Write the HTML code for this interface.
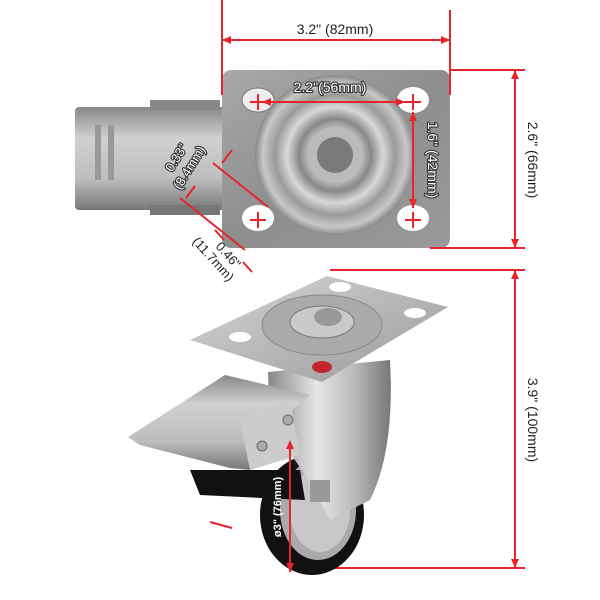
<!DOCTYPE html>
<html><head><meta charset="utf-8"><style>
html,body{margin:0;padding:0;background:#fff;width:600px;height:600px;overflow:hidden}
svg text{font-family:"Liberation Sans",sans-serif}
.w{fill:#fff;stroke:#333;stroke-width:2.2px;paint-order:stroke;stroke-linejoin:round}
</style></head><body>
<svg width="600" height="600" viewBox="0 0 600 600" xmlns="http://www.w3.org/2000/svg">
<defs>
<linearGradient id="plate" x1="0" y1="0" x2="1" y2="1"><stop offset="0" stop-color="#a9a9a9"/><stop offset="0.5" stop-color="#8e8e8e"/><stop offset="1" stop-color="#9a9a9a"/></linearGradient>
<radialGradient id="disc" cx="0.5" cy="0.5" r="0.5"><stop offset="0" stop-color="#777"/><stop offset="0.3" stop-color="#ccc"/><stop offset="0.45" stop-color="#888"/><stop offset="0.6" stop-color="#d8d8d8"/><stop offset="0.75" stop-color="#9a9a9a"/><stop offset="0.9" stop-color="#c8c8c8"/><stop offset="1" stop-color="#8a8a8a"/></radialGradient>
<linearGradient id="lever" x1="0" y1="0" x2="0" y2="1"><stop offset="0" stop-color="#888"/><stop offset="0.3" stop-color="#d0d0d0"/><stop offset="0.7" stop-color="#bdbdbd"/><stop offset="1" stop-color="#777"/></linearGradient>
<linearGradient id="fork" x1="0" y1="0" x2="1" y2="0"><stop offset="0" stop-color="#888"/><stop offset="0.4" stop-color="#e6e6e6"/><stop offset="0.7" stop-color="#bbb"/><stop offset="1" stop-color="#777"/></linearGradient>
<linearGradient id="plate2" x1="0" y1="0" x2="1" y2="1"><stop offset="0" stop-color="#d6d6d6"/><stop offset="1" stop-color="#999"/></linearGradient>
</defs>

<!-- top view lever -->
<rect x="75" y="107" width="150" height="103" rx="4" fill="url(#lever)"/>
<rect x="95" y="125" width="6" height="55" fill="#999"/><rect x="108" y="125" width="6" height="55" fill="#999"/>
<rect x="150" y="100" width="70" height="10" fill="#888"/>
<rect x="150" y="205" width="70" height="10" fill="#777"/>
<!-- top plate -->
<rect x="222" y="70" width="228" height="178" rx="9" fill="url(#plate)"/>
<circle cx="335" cy="155" r="80" fill="url(#disc)"/>
<circle cx="335" cy="155" r="28" fill="#bbb"/><circle cx="335" cy="155" r="18" fill="#7a7a7a"/>
<ellipse cx="258" cy="100" rx="16" ry="12" fill="#eee" stroke="#777"/>
<ellipse cx="413" cy="100" rx="16" ry="13" fill="#fff"/>
<ellipse cx="258" cy="218" rx="16" ry="13" fill="#fff"/>
<ellipse cx="413" cy="218" rx="16" ry="13" fill="#fff"/>
<g stroke="#e8232b" stroke-width="2" fill="none">
<path d="M250 102h16M258 94v16M405 102h16M413 94v16M250 220h16M258 212v16M405 220h16M413 212v16"/>
<path d="M262 102H405M413 112V208"/>
<path d="M222 0V95M450 10V95M222 40H450"/>
<path d="M450 70H525M430 248H525M515 70V248"/>
<path d="M330 270H525M300 568H525M515 270V568"/>
<path d="M213 163L268 207M180 198L245 250M222 163L232 150M186 198L195 186M215 230L224 240M243 262L252 272"/>
</g>
<g fill="#e8232b">
<path d="M222 40l9-4v8zM450 40l-9-4v8zM515 70l-4 9h8zM515 248l-4-9h8zM515 270l-4 9h8zM515 568l-4-9h8zM262 102l9-4v8zM405 102l-9-4v8zM413 112l-4 9h8zM413 208l-4-9h8z"/>
</g>
<text x="335" y="34" font-size="14" text-anchor="middle" fill="#222">3.2" (82mm)</text>
<text x="330" y="92" font-size="14" text-anchor="middle" class="w">2.2"(56mm)</text>
<text transform="translate(428,160) rotate(90)" font-size="14" text-anchor="middle" class="w">1.6" (42mm)</text>
<text transform="translate(528,160) rotate(90)" font-size="14" text-anchor="middle" fill="#222">2.6" (66mm)</text>
<text transform="translate(528,420) rotate(90)" font-size="14" text-anchor="middle" fill="#222">3.9" (100mm)</text>
<text transform="translate(180,160) rotate(-58)" font-size="13" text-anchor="middle" class="w">0.33"</text>
<text transform="translate(193,170) rotate(-58)" font-size="13" text-anchor="middle" class="w">(8.4mm)</text>
<text transform="translate(225,258) rotate(48)" font-size="13" text-anchor="middle" fill="#222">0.46"</text>
<text transform="translate(210,262) rotate(48)" font-size="13" text-anchor="middle" fill="#222">(11.7mm)</text>

<!-- bottom caster -->
<ellipse cx="312" cy="515" rx="52" ry="60" fill="#111"/>
<ellipse cx="318" cy="510" rx="38" ry="50" fill="#aaa"/>
<ellipse cx="320" cy="510" rx="30" ry="42" fill="#c8c8c8"/>
<path d="M268 372L390 360Q395 450 370 500L330 520Q300 460 270 430Z" fill="url(#fork)"/>
<rect x="310" y="480" width="20" height="22" fill="#999"/>
<path d="M190 470L300 470L305 500L200 495Z" fill="#111"/>
<path d="M128 437L225 375L310 395L290 412L250 470L230 468L140 445Z" fill="url(#lever)"/>
<path d="M240 420L290 400L300 455L250 470Z" fill="#ccc"/>
<circle cx="288" cy="420" r="5" fill="#aaa" stroke="#666"/><circle cx="262" cy="446" r="5" fill="#aaa" stroke="#666"/>
<path d="M190 340L327 276L448 307L322 382Z" fill="url(#plate2)"/>
<ellipse cx="322" cy="325" rx="60" ry="30" fill="#aaa" stroke="#888"/>
<ellipse cx="322" cy="322" rx="32" ry="16" fill="#c9c9c9" stroke="#777"/>
<ellipse cx="328" cy="317" rx="14" ry="9" fill="#999"/>
<ellipse cx="322" cy="367" rx="10" ry="6" fill="#c0272d"/>
<ellipse cx="340" cy="287" rx="11" ry="5" fill="#fff"/>
<ellipse cx="415" cy="313" rx="11" ry="5" fill="#fff"/>
<ellipse cx="240" cy="337" rx="11" ry="5" fill="#fff"/>
<g stroke="#e8232b" stroke-width="2" fill="none"><path d="M290 442V572"/><path d="M210 522L232 528"/></g>
<path d="M290 440l-4 9h8zM290 572l-4-9h8z" fill="#e8232b"/>
<text transform="translate(281,507) rotate(-90)" font-size="11" font-weight="bold" text-anchor="middle" fill="#fff">ø3" (76mm)</text>
<text x="228" y="510" font-size="10" font-weight="bold" text-anchor="middle" fill="#fff">0.9"</text>
<text x="225" y="521" font-size="10" font-weight="bold" text-anchor="middle" fill="#fff">(23mm)</text>
</svg>
</body></html>
